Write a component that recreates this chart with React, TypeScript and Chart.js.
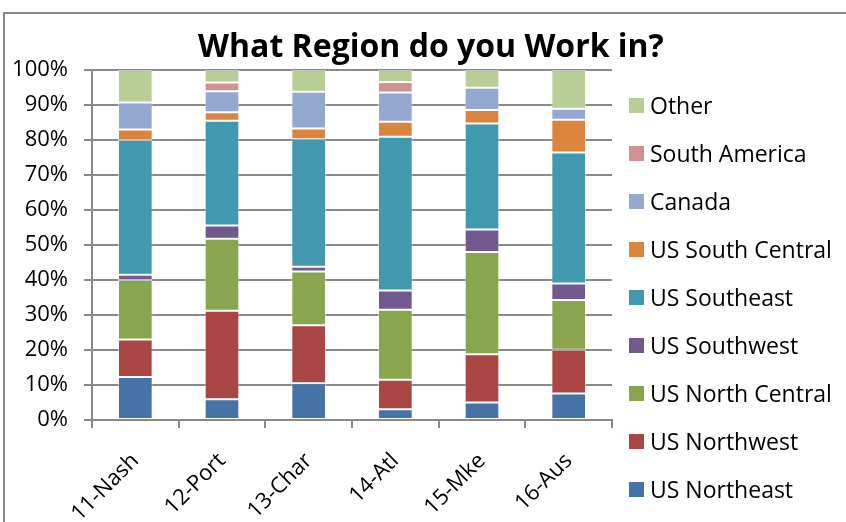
import React, { useEffect, useRef } from "react";
import { Chart, registerables } from "chart.js";

Chart.register(...registerables);

const categories = ["11-Nash", "12-Port", "13-Char", "14-Atl", "15-Mke", "16-Aus"];

const usNortheast = [12.3, 5.9, 10.5, 3.1, 5.0, 7.6];
const usNorthwest = [10.7, 25.3, 16.6, 8.4, 13.8, 12.5];
const usNorthCentral = [17.0, 20.6, 15.3, 20.0, 29.2, 14.2];
const usSouthwest = [1.5, 3.8, 1.4, 5.5, 6.4, 4.7];
const usSoutheast = [38.5, 29.9, 36.4, 43.9, 30.3, 37.4];
const usSouthCentral = [3.0, 2.4, 3.1, 4.3, 3.9, 9.4];
const canada = [7.7, 6.0, 10.5, 8.4, 6.3, 3.1];
const southAmerica = [0, 2.5, 0, 3.0, 0, 0];
const other = [9.3, 3.6, 6.2, 3.4, 5.1, 11.1];

const seriesNames = [
  "US Northeast",
  "US Northwest",
  "US North Central",
  "US Southwest",
  "US Southeast",
  "US South Central",
  "Canada",
  "South America",
  "Other",
];
const seriesValues = [
  usNortheast,
  usNorthwest,
  usNorthCentral,
  usSouthwest,
  usSoutheast,
  usSouthCentral,
  canada,
  southAmerica,
  other,
];
const seriesColors = [
  "#4572A7",
  "#AA4643",
  "#89A54E",
  "#71588F",
  "#4198AF",
  "#DB843D",
  "#93A9CF",
  "#D19392",
  "#B9CD96",
];

const titleText = "What Region do you Work in?";
const FONT = "'Open Sans', 'Noto Sans', sans-serif";

const CANVAS_W = 862;
const CANVAS_H = 522;

// Re-centre the title over the whole canvas (the legend lives in the right padding).
const centerTitlePlugin = {
  id: "centerTitle",
  afterLayout(chart: any) {
    const t = chart.titleBlock;
    if (t) {
      t.left = 0;
      t.right = CANVAS_W;
      t.width = CANVAS_W;
    }
  },
};

export default function App() {
  const canvasRef = useRef<HTMLCanvasElement | null>(null);

  useEffect(() => {
    const canvas = canvasRef.current;
    if (!canvas) return;
    const chart = new Chart(canvas, {
      type: "bar",
      data: {
        labels: categories,
        datasets: seriesNames.map((name, i) => ({
          label: name,
          data: seriesValues[i],
          backgroundColor: seriesColors[i],
          borderColor: "rgba(255,255,255,0.45)",
          borderWidth: 1,
          borderSkipped: false,
          barPercentage: 0.4,
          categoryPercentage: 1,
        })),
      },
      plugins: [centerTitlePlugin],
      options: {
        responsive: false,
        animation: false,
        layout: { padding: { left: 0, right: 250, top: 0, bottom: 0 } },
        plugins: {
          legend: { display: false },
          tooltip: { enabled: false },
          title: {
            display: true,
            text: titleText,
            color: "#000",
            font: { family: FONT, size: 32, weight: "bold", lineHeight: 1.2 },
            padding: { top: 29, bottom: 2.6 },
          },
        },
        scales: {
          x: {
            stacked: true,
            offset: true,
            grid: {
              offset: true,
              drawOnChartArea: false,
              drawTicks: true,
              tickLength: 8,
              color: "#8a8a8a",
              lineWidth: 2,
            },
            border: { display: true, color: "#8a8a8a", width: 2 },
            ticks: {
              color: "#000",
              font: { family: FONT, size: 22 },
              minRotation: 45,
              maxRotation: 45,
              padding: 20,
              autoSkip: false,
            },
            afterFit: (scale: any) => {
              scale.height = 102;
            },
          },
          y: {
            stacked: true,
            min: 0,
            max: 100,
            grid: {
              drawTicks: true,
              tickLength: 8,
              color: "#8a8a8a",
              lineWidth: 2,
            },
            border: { display: true, color: "#8a8a8a", width: 2 },
            ticks: {
              stepSize: 10,
              color: "#000",
              font: { family: FONT, size: 22 },
              padding: 16,
              callback: (v: any) => v + "%",
            },
            afterFit: (scale: any) => {
              scale.width = 92;
            },
          },
        },
      },
    });
    return () => chart.destroy();
  }, []);

  const legendOrder = seriesNames.map((_, i) => i).reverse();

  return (
    <div
      style={{
        position: "fixed",
        left: 0,
        top: 0,
        width: 846,
        height: 522,
        overflow: "hidden",
        background: "#fff",
      }}
    >
      <div
        style={{
          position: "absolute",
          left: 3,
          top: 12,
          width: 1000,
          height: 1000,
          border: "2px solid #8a8a8a",
          boxSizing: "border-box",
        }}
      />
      <canvas
        ref={canvasRef}
        width={CANVAS_W}
        height={CANVAS_H}
        style={{ position: "absolute", left: 0, top: 0, width: CANVAS_W, height: CANVAS_H }}
      />
      {legendOrder.map((idx, k) => (
        <div
          key={seriesNames[idx]}
          style={{
            position: "absolute",
            left: 629,
            top: 105 + 48 * k - 15,
            height: 30,
            display: "flex",
            alignItems: "center",
            fontFamily: FONT,
            fontSize: 23,
            color: "#000",
            whiteSpace: "nowrap",
          }}
        >
          <span
            style={{
              display: "inline-block",
              width: 15,
              height: 15,
              background: seriesColors[idx],
              marginRight: 6,
            }}
          />
          <span style={{ lineHeight: "30px" }}>{seriesNames[idx]}</span>
        </div>
      ))}
    </div>
  );
}
